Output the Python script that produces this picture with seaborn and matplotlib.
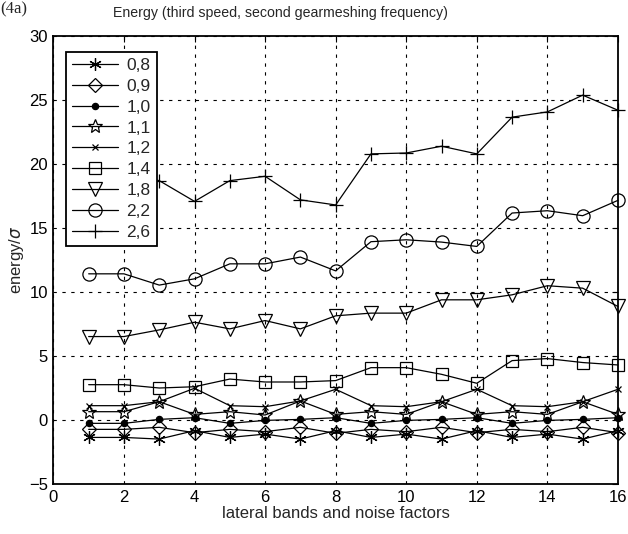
"""
plot.py
Energy by lateral band / noise factor, one line per speed ratio (MATLAB-style look).

Output:
  - out.png
"""

import numpy as np
import pandas as pd
import matplotlib
matplotlib.use('Agg')
import matplotlib.pyplot as plt
import seaborn as sns

OUT_PATH = 'out.png'

# Data
x_vals = list(range(1, 17))
labels = ['0,8', '0,9', '1,0', '1,1', '1,2', '1,4', '1,8', '2,2', '2,6']

e_08 = [-1.36, -1.36, -1.49, -0.83, -1.36, -1.10, -1.49, -0.83,
        -1.36, -1.10, -1.49, -0.83, -1.36, -1.10, -1.49, -0.83]
e_09 = [-0.73, -0.73, -0.57, -0.99, -0.73, -0.91, -0.57, -1.04,
        -0.73, -0.91, -0.57, -0.99, -0.73, -0.91, -0.57, -0.99]
e_10 = [-0.26, -0.26, 0.05, 0.18, -0.26, -0.03, 0.05, 0.18,
        -0.26, -0.03, 0.05, 0.18, -0.26, -0.03, 0.05, 0.18]
e_11 = [0.65, 0.65, 1.43, 0.44, 0.65, 0.39, 1.49, 0.44,
        0.65, 0.44, 1.43, 0.44, 0.65, 0.44, 1.43, 0.44]
e_12 = [1.12, 1.12, 1.43, 2.48, 1.12, 1.04, 1.49, 2.40,
        1.12, 1.04, 1.43, 2.40, 1.12, 1.04, 1.43, 2.40]
e_14 = [2.76, 2.76, 2.50, 2.60, 3.20, 2.97, 2.97, 3.08,
        4.09, 4.09, 3.57, 2.87, 4.64, 4.80, 4.49, 4.30]
e_18 = [6.52, 6.52, 7.04, 7.64, 7.12, 7.77, 7.12, 8.14,
        8.35, 8.35, 9.39, 9.39, 9.78, 10.49, 10.30, 8.87]
e_22 = [11.42, 11.42, 10.54, 11.03, 12.20, 12.20, 12.73, 11.65,
        13.93, 14.08, 13.90, 13.56, 16.17, 16.35, 15.96, 17.16]
e_26 = [18.50, 19.30, 18.70, 17.08, 18.70, 19.04, 17.20, 16.80,
        20.79, 20.86, 21.39, 20.79, 23.66, 24.07, 25.38, 24.20]

series = [e_08, e_09, e_10, e_11, e_12, e_14, e_18, e_22, e_26]

# marker, size, filled
marker_style = {
    '0,8': ((6, 2, 0), 9, True),
    '0,9': ('D', 7, False),
    '1,0': ('o', 4.5, True),
    '1,1': ('*', 10, False),
    '1,2': ('x', 5, True),
    '1,4': ('s', 9, False),
    '1,8': ('v', 9.5, False),
    '2,2': ('o', 9.5, False),
    '2,6': ('+', 10, True),
}

df = pd.DataFrame({
    'x': np.tile(x_vals, len(labels)),
    'energy': np.concatenate(series),
    'ratio': np.repeat(labels, len(x_vals)),
})

sns.set_style('white')
plt.rcParams['font.family'] = ['Liberation Sans', 'DejaVu Sans']

fig = plt.figure(figsize=(6.28, 5.34), dpi=100)
ax = fig.add_axes([0.085, 0.0936, 0.899, 0.839])

for lab in labels:
    mk, ms, filled = marker_style[lab]
    sub = df[df['ratio'] == lab]
    sns.lineplot(
        data=sub, x='x', y='energy', ax=ax,
        color='black', linewidth=0.9, label=lab,
        marker=mk, markersize=ms,
        markerfacecolor='black' if filled else 'none',
        markeredgecolor='black', markeredgewidth=0.9,
        clip_on=False, zorder=3,
    )

ax.set_xlim(0, 16)
ax.set_ylim(-5, 30)
ax.set_xticks(range(0, 17, 2))
ax.set_yticks(range(-5, 31, 5))
ax.grid(True, color='black', linestyle=(0, (3, 5)), linewidth=0.8)
ax.tick_params(direction='in', top=True, right=True, length=4,
               labelsize=12, colors='black', pad=4)
for sp in ax.spines.values():
    sp.set_color('black')
    sp.set_linewidth(1.3)

ax.set_xlabel('lateral bands and noise factors', fontsize=12, labelpad=1)
ax.set_ylabel('energy/$\\sigma$', fontsize=12, labelpad=2)

fig.text(0.446, 0.975, 'Energy (third speed, second gearmeshing frequency)',
         fontsize=10.2, ha='center', va='center')

leg = ax.legend(loc='upper left', bbox_to_anchor=(0.023, 0.965),
                frameon=True, fancybox=False, fontsize=12.5,
                handlelength=2.6, labelspacing=0.33, borderpad=0.35,
                handletextpad=0.5, borderaxespad=0)
leg.get_frame().set_edgecolor('black')
leg.get_frame().set_linewidth(1.3)
leg.get_frame().set_alpha(1)

fig.text(0.0, 0.998, '(4a)', family=['Liberation Serif', 'DejaVu Serif'],
         fontsize=12, va='top', ha='left')

plt.savefig(OUT_PATH, dpi=100)
